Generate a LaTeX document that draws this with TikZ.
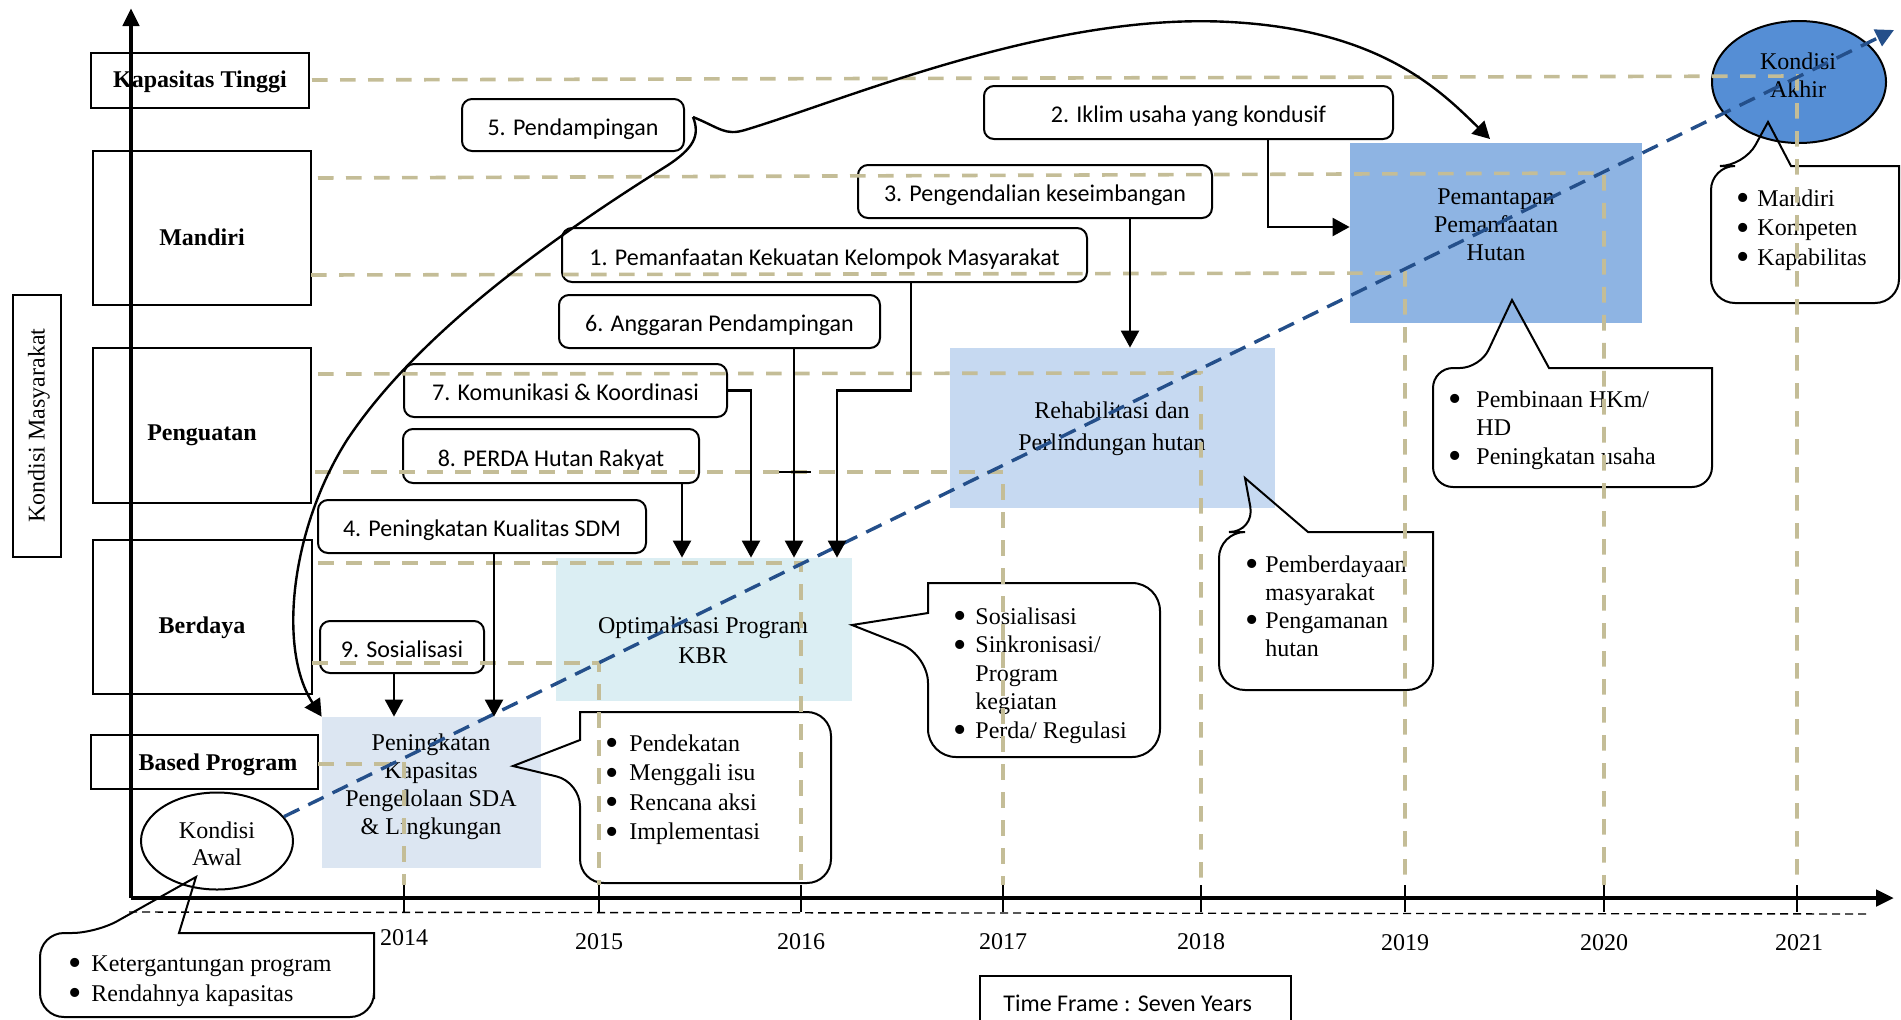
\documentclass[tikz,border=0pt]{standalone}
\usepackage{fontspec}
\setmainfont{Liberation Serif}
\newfontfamily\sansf{Carlito}
\usetikzlibrary{arrows.meta,shapes.geometric}
\definecolor{tanc}{HTML}{C4BD97}
\definecolor{bluel}{RGB}{36,79,138}
\definecolor{fpk}{HTML}{DCE6F2}
\definecolor{fopt}{HTML}{DBEEF3}
\definecolor{frh}{HTML}{C6D9F1}
\definecolor{fpm}{HTML}{8EB4E3}
\definecolor{fak}{HTML}{558ED5}
\newcommand{\tw}{\fontsize{12}{14.5}\selectfont}
\newcommand{\bb}{\raisebox{-2.3pt}{\fontsize{19}{14}\selectfont\textbullet}}
\newcommand{\bulletlist}[3]{{\fontsize{12}{#1}\selectfont\begin{tabular}[t]{@{}l@{\hspace{#2}}l@{}}#3\end{tabular}}}
\begin{document}
\begin{tikzpicture}[x=0.5pt,y=-0.5pt,
  every node/.style={font=\tw, inner sep=0pt},
  lvl/.style={draw, line width=0.8pt},
  sbox/.style={draw, line width=1pt, rounded corners=5pt, font=\sansf\tw, text height=12pt, text depth=2pt},
  tanline/.style={draw=tanc, line width=1.8pt, dash pattern=on 7.8pt off 6.2pt},
  arr/.style={line width=1.2pt, -{Triangle[length=8.5pt,width=9pt]}},
  cbub/.style={draw, line width=1pt},
  blist/.style={anchor=base west, align=left}
]
\useasboundingbox (0,0) rectangle (1901,1019);

% filled boxes
\node[fill=fpk, minimum width=109.5pt, minimum height=75.5pt] (pk) at (431.5,792.5) {};
\node[fill=fopt, minimum width=148pt, minimum height=71.5pt] (opt) at (704,629.5) {};
\node[fill=frh, minimum width=162.5pt, minimum height=80pt] (rh) at (1112.5,428) {};
\node[fill=fpm, minimum width=146pt, minimum height=90pt] (pm) at (1496,233) {};
\node[draw, ellipse, line width=1pt, fill=white, minimum width=76pt, minimum height=48.5pt] (awal) at (217,841) {};
\node[draw, ellipse, line width=1pt, fill=fak, minimum width=87pt, minimum height=61pt] (akhir) at (1799,82) {};

% texts in boxes
\node[align=center, font=\fontsize{12}{14}\selectfont] (tpk) at (431,787) {Peningkatan\\Kapasitas\\Pengelolaan SDA\\\& Lingkungan};
\node[align=center, font=\fontsize{12}{15}\selectfont] (topt) at (703,640) {Optimalisasi Program\\KBR};
\node[align=center, font=\fontsize{12}{16}\selectfont] (trh) at (1112,428.5) {Rehabilitasi dan\\Perlindungan hutan};
\node[align=center, font=\fontsize{12}{14}\selectfont] (tpm) at (1496,225) {Pemantapan\\Pemanfaatan\\Hutan};
\node[align=center, font=\fontsize{12}{13.5}\selectfont] (tawal) at (217,844) {Kondisi\\Awal};
\node[align=center, font=\fontsize{12}{14}\selectfont] (takhir) at (1798,75) {Kondisi\\Akhir};

% level boxes
\node[lvl, minimum width=109pt, minimum height=27.5pt] (kt) at (200,80.5) {};
\node (tkt) at (200,82) {\bfseries Kapasitas Tinggi};
\node[lvl, minimum width=109pt, minimum height=77pt] (mdr) at (202,228) {};
\node (tmdr) at (202,237) {\bfseries Mandiri};
\node[lvl, minimum width=109pt, minimum height=77.5pt] (pgt) at (202,425.5) {};
\node (tpgt) at (202,435.5) {\bfseries Penguatan};
\node[lvl, minimum width=109.5pt, minimum height=77pt] (bdy) at (202.5,617) {};
\node (tbdy) at (202,627.5) {\bfseries Berdaya};
\node[lvl, minimum width=113.5pt, minimum height=27pt] (bp) at (204.5,762) {};
\node (tbp) at (218,764.5) {\bfseries Based Program};
\node[lvl, minimum width=24.25pt, minimum height=131pt] (km) at (37,426) {};
\node[rotate=90] (tkm) at (39,425.5) {Kondisi Masyarakat};

% rounded sans boxes
\node[sbox, minimum width=111pt, minimum height=26pt] (n5) at (573,125) {5. Pendampingan};
\node[sbox, minimum width=204.5pt, minimum height=26.5pt] (n2) at (1188.5,112.5) {2. Iklim usaha yang kondusif};
\node[sbox, minimum width=177pt, minimum height=26.5pt] (n3) at (1035,191.5) {3. Pengendalian keseimbangan};
\node[sbox, minimum width=262.5pt, minimum height=27pt] (n1) at (824.5,255) {1. Pemanfaatan Kekuatan Kelompok Masyarakat};
\node[sbox, minimum width=160.5pt, minimum height=26.5pt] (n6) at (719.5,321.5) {6. Anggaran Pendampingan};
\node[sbox, minimum width=161.5pt, minimum height=26.5pt] (n7) at (565.5,390.5) {7. Komunikasi \& Koordinasi};
\node[sbox, minimum width=148pt, minimum height=27pt] (n8) at (551,456) {8. PERDA Hutan Rakyat};
\node[sbox, minimum width=164pt, minimum height=26.5pt] (n4) at (482,526.5) {4. Peningkatan Kualitas SDM};
\node[sbox, minimum width=82pt, minimum height=26pt] (n9) at (402,647) {9. Sosialisasi};

% callouts
\draw[cbub] (374,975) [rounded corners=12pt] -- (374,1017) -- (40,1017) -- (40,933) -- (96,933) [sharp corners] -- (196,877) -- (179,933) -- (374,933) [rounded corners=12pt] -- cycle;
\draw[cbub] (831,800) [rounded corners=12pt] -- (831,883) -- (580,883) -- (580,782) [sharp corners] -- (513,766) -- (580,740) -- (580,712) [rounded corners=12pt] -- (831,712) -- cycle;
\draw[cbub] (1160,670) [rounded corners=14pt] -- (1160,757) -- (928,757) -- (928,655) [sharp corners] -- (852,625) -- (928,613) -- (928,583) [rounded corners=14pt] -- (1160,583) -- cycle;
\draw[cbub] (1433,610) [rounded corners=13pt] -- (1433,690) -- (1219,690) -- (1219,532) -- (1255,532) [sharp corners] -- (1245,478) -- (1308,532) -- (1433,532) [rounded corners=13pt] -- cycle;
\draw[cbub] (1712,430) [rounded corners=10pt] -- (1712,487) -- (1433,487) -- (1433,368) -- (1480,368) [sharp corners] -- (1512,300) -- (1549,368) -- (1712,368) [rounded corners=10pt] -- cycle;
\draw[cbub] (1899,240) [rounded corners=12pt] -- (1899,303) -- (1711,303) -- (1711,166) -- (1744,166) [sharp corners] -- (1768,122) -- (1791,166) -- (1899,166) [rounded corners=12pt] -- cycle;

% bullet lists
\node[blist] (l0) at (68.4,971) {\bulletlist{15}{4.67pt}{\bb & Ketergantungan program\\ \bb & Rendahnya kapasitas}};
\node[blist] (l1) at (605.4,751) {\bulletlist{14.8}{5.17pt}{\bb & Pendekatan\\ \bb & Menggali isu\\ \bb & Rencana aksi\\ \bb & Implementasi}};
\node[blist] (l2) at (953.4,624) {\bulletlist{14.25}{4.17pt}{\bb & Sosialisasi\\ \bb & Sinkronisasi/\\ & Program\\ & kegiatan\\ \bb & Perda/ Regulasi}};
\node[blist] (l3) at (1245.4,572) {\bulletlist{14}{3.17pt}{\bb & Pemberdayaan\\ & masyarakat\\ \bb & Pengamanan\\ & hutan}};
\node[blist] (l4) at (1448.4,407) {\bulletlist{14.25}{7.17pt}{\bb & Pembinaan HKm/\\ & HD\\ \bb & Peningkatan usaha}};
\node[blist] (l5) at (1736.4,206) {\bulletlist{14.75}{3.67pt}{\bb & Mandiri\\ \bb & Kompeten\\ \bb & Kapabilitas}};

% year labels and time frame
\node (y14) at (404,937.5) {2014};
\node (y15) at (599,941.5) {2015};
\node (y16) at (801,941.5) {2016};
\node (y17) at (1003,941.5) {2017};
\node (y18) at (1201,941.5) {2018};
\node (y19) at (1405,943) {2019};
\node (y20) at (1604,943) {2020};
\node (y21) at (1799,943) {2021};
\node[draw, line width=1pt, minimum width=155.5pt, minimum height=27pt] (tfbox) at (1135.5,1003) {};
\node[anchor=west, font=\sansf\tw] (tf) at (1003,1003) {Time Frame : Seven Years};

% tan grid lines
\draw[tanline] (312,80) -- (1797,76) -- (1797,885);
\draw[tanline] (318,178) -- (1604,173) -- (1604,885);
\draw[tanline] (311,275) -- (1405,273) -- (1405,885);
\draw[tanline] (318,374) -- (1201,373) -- (1201,885);
\draw[tanline] (315,472) -- (1003,472) -- (1003,885);
\draw[tanline] (318,563) -- (801,563) -- (801,885);
\draw[tanline] (312,663) -- (599,663) -- (599,885);
\draw[tanline] (318,764) -- (404,764) -- (404,885);

% blue trend line
\coordinate (bend) at (1894,30);
\draw[bluel, line width=1.7pt, dash pattern=on 8.5pt off 5pt, -{Triangle[length=9pt,width=9pt]}] (awal.20) -- (bend);

% connectors
\draw[arr] ([xshift=-4pt]n9.south) -- ([xshift=-4pt]n9.south |- pk.north);
\draw[arr] ([xshift=6pt]n4.south) -- ([xshift=6pt]n4.south |- pk.north);
\draw[arr] ([xshift=-9pt]n8.south east) -- ([xshift=-9pt]n8.south east |- opt.north);
\draw[arr] (n7.east) -| ([xshift=23.5pt]opt.north);
\draw[arr] ([xshift=37.25pt]n6.south) -- ([xshift=37.25pt]n6.south |- opt.north);
\draw[arr] ([xshift=43.25pt]n1.south) |- ([xshift=66.5pt]opt.north |- n7.east) -- ([xshift=66.5pt]opt.north);
\draw[arr] ([xshift=47.5pt]n3.south) -- ([xshift=47.5pt]n3.south |- rh.north);
\draw[arr] ([xshift=39.75pt]n2.south) |- ([yshift=3pt]pm.west);
\draw[line width=1.2pt] (779,472) -- (811,472);

% big curves from the cusp near 5. Pendampingan
\coordinate (cusp) at (693,117);
\coordinate (pmtip) at (1490,139);
\draw[arr] (cusp) .. controls (700,135) and (695,148) .. (665,167) .. controls (560,233) and (420,330) .. (347,440) .. controls (290,530) and (278,650) .. (pk.north west);
\draw[arr] (cusp) .. controls (720,128) and (725,136) .. (745,130) .. controls (845,100) and (1050,12) .. (1230,22) .. controls (1380,30) and (1440,90) .. (pmtip);

% axes
\coordinate (O) at (131,898);
\coordinate (ytop) at (131,8);
\coordinate (xend) at (1894,898);
\draw[line width=0.7pt, dash pattern=on 4pt off 2.5pt] (129,912) -- (1870,914);
\foreach \xx in {404,599,801,1003,1201,1405,1604,1797} \draw[line width=0.8pt] (\xx,885) -- (\xx,912);
\draw[line width=2.4pt, -{Triangle[length=9pt,width=8pt]}] (O) -- (ytop);
\draw[line width=2.4pt, -{Triangle[length=9pt,width=8pt]}] (O) -- (xend);
\end{tikzpicture}
\end{document}
